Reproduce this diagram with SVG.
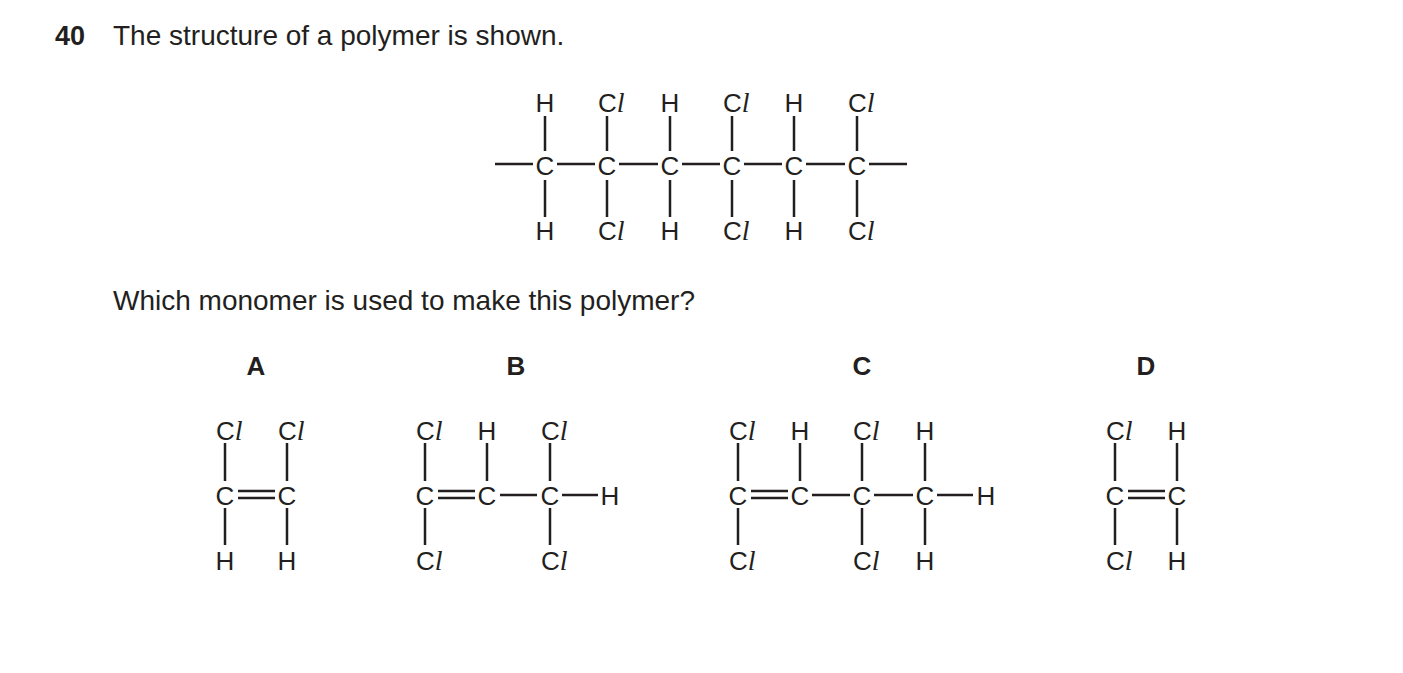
<svg xmlns="http://www.w3.org/2000/svg" width="1403" height="673" viewBox="0 0 1403 673">
<style>
text{font-family:"Liberation Sans",Arial,sans-serif;fill:#231f20}
.q{font-size:28px}
.t{font-size:26px}
.a{font-size:26px;text-anchor:middle}
.i{font-family:"Liberation Serif",serif;font-style:italic;font-size:28px}
.h{font-size:26px;font-weight:bold;text-anchor:middle}
line{stroke:#231f20;stroke-width:2.5}
</style>
<rect width="1403" height="673" fill="#fff"/>
<text x="55" y="45" style="font-size:27px;font-weight:bold">40</text>
<text x="113" y="45" class="q">The structure of a polymer is shown.</text>
<text x="113" y="310" class="q">Which monomer is used to make this polymer?</text>
<g id="polymer">
<text x="545" y="112" class="a">H</text><text x="598" y="112" class="t">C<tspan class="i">l</tspan></text>
<text x="670" y="112" class="a">H</text><text x="723" y="112" class="t">C<tspan class="i">l</tspan></text>
<text x="794" y="112" class="a">H</text><text x="848" y="112" class="t">C<tspan class="i">l</tspan></text>
<text x="545" y="175" class="a">C</text><text x="607" y="175" class="a">C</text><text x="670" y="175" class="a">C</text>
<text x="732" y="175" class="a">C</text><text x="794" y="175" class="a">C</text><text x="857" y="175" class="a">C</text>
<text x="545" y="240" class="a">H</text><text x="598" y="240" class="t">C<tspan class="i">l</tspan></text>
<text x="670" y="240" class="a">H</text><text x="723" y="240" class="t">C<tspan class="i">l</tspan></text>
<text x="794" y="240" class="a">H</text><text x="848" y="240" class="t">C<tspan class="i">l</tspan></text>
</g>
<g id="A">
<text x="256" y="375" class="h">A</text>
<text x="216" y="440" class="t">C<tspan class="i">l</tspan></text><text x="278" y="440" class="t">C<tspan class="i">l</tspan></text>
<text x="225" y="505" class="a">C</text><text x="287" y="505" class="a">C</text>
<text x="225" y="570" class="a">H</text><text x="287" y="570" class="a">H</text>
</g>
<g id="B">
<text x="516" y="375" class="h">B</text>
<text x="416" y="440" class="t">C<tspan class="i">l</tspan></text><text x="487" y="440" class="a">H</text><text x="541" y="440" class="t">C<tspan class="i">l</tspan></text>
<text x="425" y="505" class="a">C</text><text x="487" y="505" class="a">C</text><text x="550" y="505" class="a">C</text><text x="610" y="505" class="a">H</text>
<text x="416" y="570" class="t">C<tspan class="i">l</tspan></text><text x="541" y="570" class="t">C<tspan class="i">l</tspan></text>
</g>
<g id="C">
<text x="862" y="375" class="h">C</text>
<text x="729" y="440" class="t">C<tspan class="i">l</tspan></text><text x="800" y="440" class="a">H</text><text x="853" y="440" class="t">C<tspan class="i">l</tspan></text><text x="925" y="440" class="a">H</text>
<text x="738" y="505" class="a">C</text><text x="800" y="505" class="a">C</text><text x="862" y="505" class="a">C</text><text x="925" y="505" class="a">C</text><text x="986" y="505" class="a">H</text>
<text x="729" y="570" class="t">C<tspan class="i">l</tspan></text><text x="853" y="570" class="t">C<tspan class="i">l</tspan></text><text x="925" y="570" class="a">H</text>
</g>
<g id="D">
<text x="1146" y="375" class="h">D</text>
<text x="1106" y="440" class="t">C<tspan class="i">l</tspan></text><text x="1177" y="440" class="a">H</text>
<text x="1115" y="505" class="a">C</text><text x="1177" y="505" class="a">C</text>
<text x="1106" y="570" class="t">C<tspan class="i">l</tspan></text><text x="1177" y="570" class="a">H</text>
</g>
<g id="connectors">
<line x1="495" y1="164" x2="533" y2="164"/><line x1="557" y1="164" x2="595" y2="164"/><line x1="619" y1="164" x2="658" y2="164"/>
<line x1="682" y1="164" x2="720" y2="164"/><line x1="744" y1="164" x2="782" y2="164"/><line x1="806" y1="164" x2="845" y2="164"/><line x1="869" y1="164" x2="907" y2="164"/>
<line x1="545" y1="116" x2="545" y2="151"/><line x1="607" y1="116" x2="607" y2="151"/><line x1="670" y1="116" x2="670" y2="151"/>
<line x1="732" y1="116" x2="732" y2="151"/><line x1="794" y1="116" x2="794" y2="151"/><line x1="857" y1="116" x2="857" y2="151"/>
<line x1="545" y1="180" x2="545" y2="217"/><line x1="607" y1="180" x2="607" y2="217"/><line x1="670" y1="180" x2="670" y2="217"/>
<line x1="732" y1="180" x2="732" y2="217"/><line x1="794" y1="180" x2="794" y2="217"/><line x1="857" y1="180" x2="857" y2="217"/>
<line x1="225" y1="443" x2="225" y2="481"/><line x1="287" y1="443" x2="287" y2="481"/>
<line x1="225" y1="508" x2="225" y2="545"/><line x1="287" y1="508" x2="287" y2="545"/>
<line x1="238" y1="491" x2="275" y2="491"/><line x1="238" y1="498" x2="275" y2="498"/>
<line x1="425" y1="443" x2="425" y2="481"/><line x1="487" y1="443" x2="487" y2="481"/><line x1="550" y1="443" x2="550" y2="481"/>
<line x1="425" y1="508" x2="425" y2="545"/><line x1="550" y1="508" x2="550" y2="545"/>
<line x1="438" y1="491" x2="475" y2="491"/><line x1="438" y1="498" x2="475" y2="498"/>
<line x1="500" y1="495" x2="537" y2="495"/><line x1="562" y1="495" x2="598" y2="495"/>
<line x1="738" y1="443" x2="738" y2="481"/><line x1="800" y1="443" x2="800" y2="481"/><line x1="862" y1="443" x2="862" y2="481"/><line x1="925" y1="443" x2="925" y2="481"/>
<line x1="738" y1="508" x2="738" y2="545"/><line x1="862" y1="508" x2="862" y2="545"/><line x1="925" y1="508" x2="925" y2="545"/>
<line x1="751" y1="491" x2="788" y2="491"/><line x1="751" y1="498" x2="788" y2="498"/>
<line x1="812" y1="495" x2="850" y2="495"/><line x1="874" y1="495" x2="913" y2="495"/><line x1="937" y1="495" x2="973" y2="495"/>
<line x1="1115" y1="443" x2="1115" y2="481"/><line x1="1177" y1="443" x2="1177" y2="481"/>
<line x1="1115" y1="508" x2="1115" y2="545"/><line x1="1177" y1="508" x2="1177" y2="545"/>
<line x1="1128" y1="491" x2="1165" y2="491"/><line x1="1128" y1="498" x2="1165" y2="498"/>
</g>
</svg>
